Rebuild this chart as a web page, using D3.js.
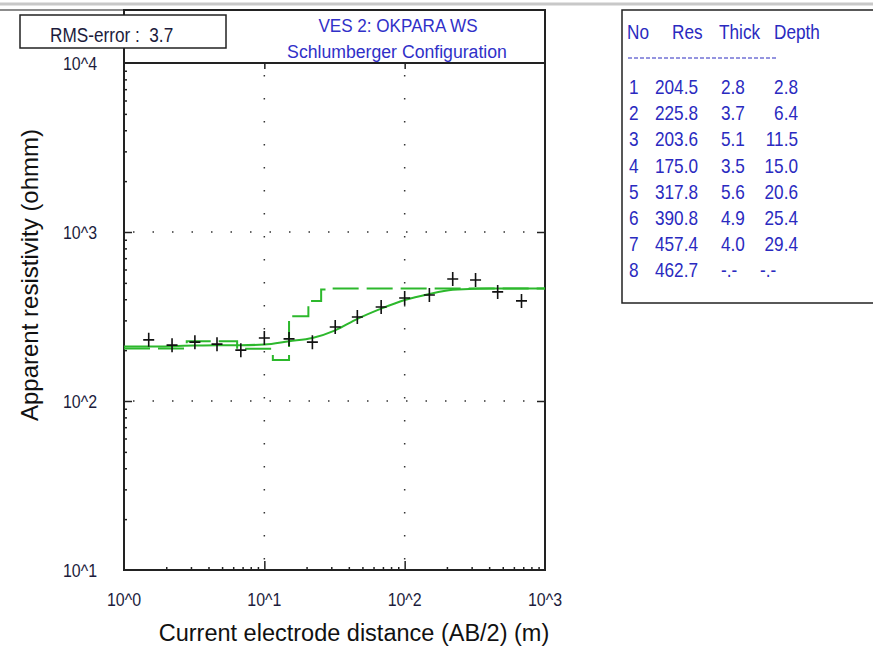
<!DOCTYPE html>
<html>
<head>
<meta charset="utf-8">
<script src="https://cdn.jsdelivr.net/npm/d3@7"></script>
<style>
  body { margin: 0; background: #fff; }
  svg { display: block; font-family: "Liberation Sans", Arial, sans-serif; }
</style>
</head>
<body>
<script>
    // observed sounding points (AB/2 in m, apparent resistivity in ohm-m)
    const abHalf = [1.5, 2.2, 3.2, 4.6, 6.8, 10, 15, 22, 32, 46, 68, 100, 150, 220, 320, 460, 680];
    const rhoObs = [230, 214, 223, 217, 200, 236, 233, 223, 274, 314, 360, 407, 424, 527, 520, 442, 391];

    // calculated model curve
    const calcAB  = [1, 1.5, 2.2, 3.2, 4.6, 6.8, 10, 15, 22, 32, 46, 68, 100, 150, 220, 320, 460, 680, 1000];
    const calcRho = [210, 210, 211, 213, 214, 214, 216, 226, 236, 262, 306, 352, 396, 430, 455, 462, 463, 463, 463];

    // layer model (table)
    const layerNo = [1, 2, 3, 4, 5, 6, 7, 8];
    const layerRes = [204.5, 225.8, 203.6, 175.0, 317.8, 390.8, 457.4, 462.7];
    const layerThick = ["2.8", "3.7", "5.1", "3.5", "5.6", "4.9", "4.0", "-.-"];
    const layerDepth = ["2.8", "6.4", "11.5", "15.0", "20.6", "25.4", "29.4", "-.-"];
    const depthVals = [2.8, 6.4, 11.5, 15.0, 20.6, 25.4, 29.4];

    const xTicks = [1, 10, 100, 1000];
    const xTickLabels = ["10^0", "10^1", "10^2", "10^3"];
    const yTicks = [10, 100, 1000, 10000];
    const yTickLabels = ["10^1", "10^2", "10^3", "10^4"];

    const width = 873, height = 647;
    const svg = d3.select("body").append("svg")
        .attr("width", width)
        .attr("height", height);

    const x = d3.scaleLog().domain([1, 1000]).range([124, 545]);
    const y = d3.scaleLog().domain([10, 10000]).range([570, 63]);

    // narrow looking text: normal font squeezed horizontally
    function narrowText(g, px, py, txt, size, sx, anchor) {
        return g.append("text")
            .attr("transform", `translate(${px},${py}) scale(${sx},1)`)
            .attr("font-size", size)
            .attr("text-anchor", anchor || "start")
            .attr("xml:space", "preserve")
            .text(txt);
    }

    // top grey border
    svg.append("line").attr("x1", 0).attr("x2", width).attr("y1", 4).attr("y2", 4)
        .attr("stroke", "#c8c8c8").attr("stroke-width", 3);
    svg.append("line").attr("x1", 0).attr("x2", 124).attr("y1", 10).attr("y2", 10)
        .attr("stroke", "#666").attr("stroke-width", 1.5);

    // dotted grid
    const grid = svg.append("g").attr("stroke", "#333").attr("stroke-width", 1.5);
    grid.selectAll("line.h").data([100, 1000]).join("line")
        .attr("x1", x(1) + 9).attr("x2", x(1000) - 4)
        .attr("y1", d => y(d)).attr("y2", d => y(d))
        .attr("stroke-dasharray", "1.5,18");
    grid.selectAll("line.v").data([10, 100]).join("line")
        .attr("x1", d => x(d)).attr("x2", d => x(d))
        .attr("y1", y(10000) + 12).attr("y2", y(10) - 4)
        .attr("stroke-dasharray", "1.5,21.5");

    // minor tick values
    const minorX = [], minorY = [];
    [1, 10, 100].forEach(b => { for (let k = 2; k < 10; k++) minorX.push(b * k); });
    [10, 100, 1000].forEach(b => { for (let k = 2; k < 10; k++) minorY.push(b * k); });

    function tickAxis(axis, tr) {
        const g = svg.append("g").attr("transform", tr).call(axis);
        g.select(".domain").remove();
        g.selectAll(".tick line").attr("stroke", "#222").attr("stroke-width", 1.5);
        g.selectAll(".tick text").remove();
        return g;
    }
    tickAxis(d3.axisRight(y).tickValues(minorY).tickSize(3), "translate(124,0)");
    tickAxis(d3.axisRight(y).tickValues([100, 1000]).tickSize(8), "translate(124,0)");
    tickAxis(d3.axisLeft(y).tickValues([100, 1000]).tickSize(8), "translate(545,0)");
    tickAxis(d3.axisTop(x).tickValues(minorX).tickSize(3), "translate(0,570)");
    tickAxis(d3.axisTop(x).tickValues([10, 100]).tickSize(9), "translate(0,570)");
    tickAxis(d3.axisBottom(x).tickValues([10, 100]).tickSize(6), "translate(0,63)");

    // frame
    const frame = svg.append("g").attr("stroke", "#222").attr("stroke-width", 2).attr("fill", "none");
    frame.append("path").attr("d", `M124,10H545V570H124Z`);
    frame.append("line").attr("x1", 124).attr("x2", 545).attr("y1", y(10000)).attr("y2", y(10000));

    // model step line (dashed)
    const steps = [{d: 1, r: layerRes[0]}];
    depthVals.forEach((dv, i) => steps.push({d: dv, r: layerRes[i + 1]}));
    steps.push({d: 1000, r: layerRes[layerRes.length - 1]});
    svg.append("path")
        .datum(steps)
        .attr("fill", "none")
        .attr("stroke", "#2cb82c")
        .attr("stroke-width", 2)
        .attr("stroke-dasharray", "26,8")
        .attr("d", d3.line().x(d => x(d.d)).y(d => y(d.r)).curve(d3.curveStepAfter));

    // calculated curve
    svg.append("path")
        .datum(calcAB.map((a, i) => [a, calcRho[i]]))
        .attr("fill", "none")
        .attr("stroke", "#2cb82c")
        .attr("stroke-width", 2)
        .attr("d", d3.line().x(d => x(d[0])).y(d => y(d[1])).curve(d3.curveMonotoneX));

    // observed points as crosses
    svg.append("g")
        .attr("stroke", "#111")
        .attr("stroke-width", 1.6)
        .selectAll("path")
        .data(abHalf.map((a, i) => [a, rhoObs[i]]))
        .join("path")
        .attr("d", d => {
            const cx = x(d[0]), cy = y(d[1]);
            return `M${cx - 5.5},${cy}H${cx + 5.5}M${cx},${cy - 7}V${cy + 7}`;
        });

    // tick labels
    const tl = svg.append("g").attr("fill", "#1c1c3c");
    xTicks.forEach((d, i) => narrowText(tl, x(d), 606, xTickLabels[i], 19, 0.84, "middle"));
    yTicks.forEach((d, i) => narrowText(tl, 80, y(d) + 7, yTickLabels[i], 19, 0.84, "middle"));

    // RMS box
    svg.append("rect").attr("x", 20).attr("y", 15).attr("width", 206).attr("height", 33)
        .attr("fill", "#fff").attr("stroke", "#222").attr("stroke-width", 1.5);
    narrowText(svg.append("g").attr("fill", "#1c1c3c"), 50, 42, "RMS-error :  3.7", 20, 0.86);

    // title
    const tg = svg.append("g").attr("fill", "#3030c8");
    narrowText(tg, 398, 32, "VES 2: OKPARA WS", 19, 0.9, "middle");
    narrowText(tg, 397, 58, "Schlumberger Configuration", 19, 0.93, "middle");

    // axis titles
    svg.append("text").attr("transform", "translate(38,275) rotate(-90)")
        .attr("text-anchor", "middle").attr("font-size", 24).attr("fill", "#111")
        .text("Apparent resistivity (ohmm)");
    svg.append("text").attr("x", 354).attr("y", 641)
        .attr("text-anchor", "middle").attr("font-size", 23.5).attr("fill", "#111")
        .text("Current electrode distance (AB/2) (m)");

    // layer table
    const tbl = svg.append("g").attr("fill", "#2a2ac0");
    svg.append("rect").attr("x", 622).attr("y", 10).attr("width", 260).attr("height", 293)
        .attr("fill", "none").attr("stroke", "#222").attr("stroke-width", 1.5);
    narrowText(tbl, 627, 39, "No", 20, 0.86);
    narrowText(tbl, 672, 39, "Res", 20, 0.86);
    narrowText(tbl, 719, 39, "Thick", 20, 0.86);
    narrowText(tbl, 774, 39, "Depth", 20, 0.86);
    svg.append("line").attr("x1", 628).attr("x2", 778).attr("y1", 58).attr("y2", 58)
        .attr("stroke", "#2a2ac0").attr("stroke-width", 1).attr("stroke-dasharray", "4,2");
    const rowY = i => 94 + i * 26.2;
    layerNo.forEach((d, i) => {
        narrowText(tbl, 629, rowY(i), String(d), 20, 0.86);
        narrowText(tbl, 655, rowY(i), layerRes[i].toFixed(1), 20, 0.86);
        narrowText(tbl, 721, rowY(i), layerThick[i], 20, 0.86);
        if (layerDepth[i] === "-.-") narrowText(tbl, 760, rowY(i), layerDepth[i], 20, 0.86);
        else narrowText(tbl, 798, rowY(i), layerDepth[i], 20, 0.86, "end");
    });
</script>
</body>
</html>
